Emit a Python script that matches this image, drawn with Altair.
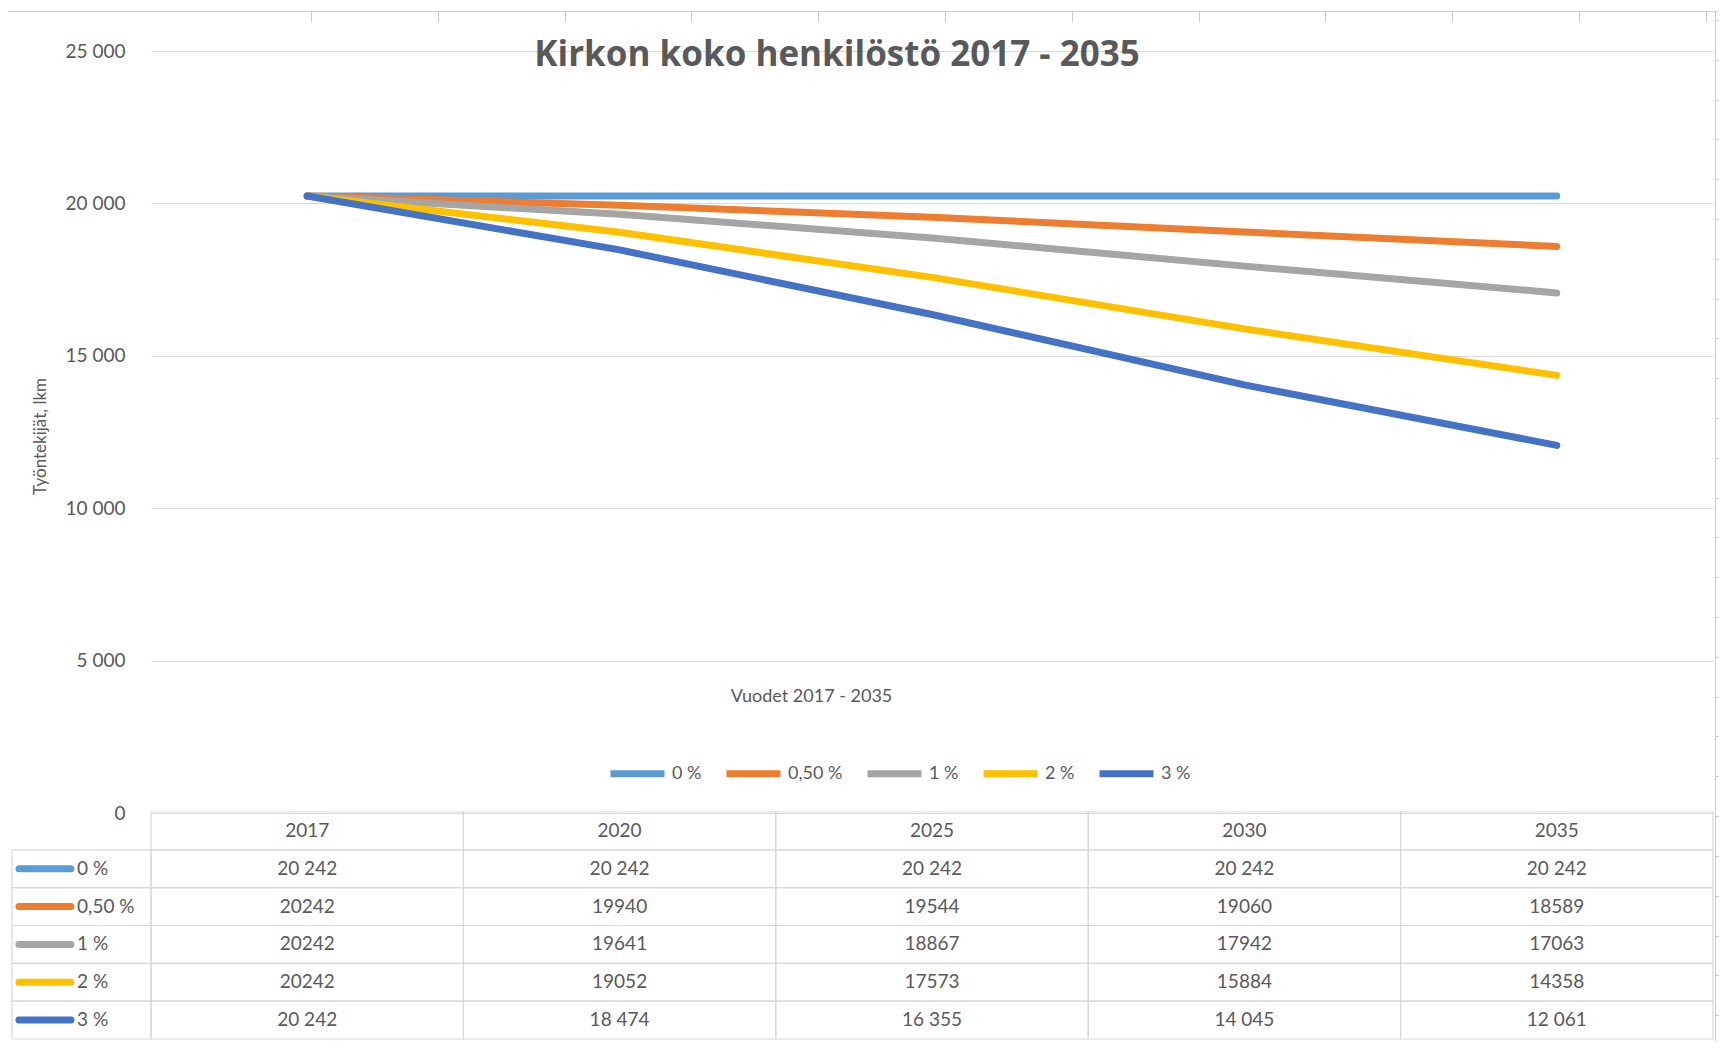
import altair as alt
import pandas as pd

# ---- data ----
years = ["2017", "2020", "2025", "2030", "2035"]
series = ["0 %", "0,50 %", "1 %", "2 %", "3 %"]
v_0 = [20242, 20242, 20242, 20242, 20242]
v_05 = [20242, 19940, 19544, 19060, 18589]
v_1 = [20242, 19641, 18867, 17942, 17063]
v_2 = [20242, 19052, 17573, 15884, 14358]
v_3 = [20242, 18474, 16355, 14045, 12061]
spaced = [True, False, False, False, True]   # table rows shown with thousands gap
colors = ["#5B9BD5", "#ED7D31", "#A5A5A5", "#FFC000", "#4472C4"]
y_ticks = [0, 5000, 10000, 15000, 20000, 25000]
title_text = "Kirkon koko henkilöstö 2017 - 2035"
x_title = "Vuodet 2017 - 2035"
y_title = "Työntekijät, lkm"
# spreadsheet grid visible behind the chart (column / row indices)
sheet_cols = list(range(12))
sheet_rows = list(range(26))

values = [v_0, v_05, v_1, v_2, v_3]

# ---- tables ----
line_rows = []
cell_rows = [{"year": y, "row": "hdr", "label": y} for y in years]
for s, vals, sp in zip(series, values, spaced):
    for y, v in zip(years, vals):
        line_rows.append({"year": y, "series": s, "value": v})
        lab = f"{v:,}".replace(",", " ") if sp else str(v)
        cell_rows.append({"year": y, "row": s, "label": lab})
lines_df = pd.DataFrame(line_rows)
cells_df = pd.DataFrame(cell_rows)
lab_df = pd.DataFrame({"col": ["lab"] * len(series), "row": series})
sheet_df = pd.DataFrame({"c": [0]})

# ---- styles / layout ----
GREY = "#595959"
GRID = "#d9d9d9"
SHEET = "#cccccc"
PLOT_W = 1562
PLOT_H = 1033
FONT = "Lato"

x_pt = alt.Scale(type="point", domain=years, range=[0, PLOT_W], padding=0.5)
y_lin = alt.Scale(domain=[0, 25000], range=[805, 43], nice=False, zero=False)
x_band = alt.Scale(type="band", domain=years, range=[0, PLOT_W], paddingInner=0, paddingOuter=0)
y_band = alt.Scale(type="band", domain=["hdr"] + series, range=[804, 1031], paddingInner=0, paddingOuter=0)
x_lab = alt.Scale(type="band", domain=["lab"], range=[-139, 0], paddingInner=0, paddingOuter=0)

lines = alt.Chart(lines_df).mark_line(strokeWidth=7, strokeCap="round", strokeJoin="round").encode(
    x=alt.X("year:O", scale=x_pt, axis=alt.Axis(
        orient="bottom", labels=False, ticks=False, domain=False, grid=False,
        title=x_title, titleX=660, titleY=-345, titleBaseline="middle", titleAlign="center",
        titleFont=FONT, titleFontSize=18, titleFontWeight="normal", titleColor=GREY)),
    y=alt.Y("value:Q", scale=y_lin, axis=alt.Axis(
        orient="left", values=y_ticks, grid=True, gridColor=GRID, gridWidth=1.2,
        domain=False, ticks=False, labelPadding=26, labelFont=FONT, labelFontSize=19,
        labelColor=GREY, labelExpr="replace(format(datum.value, ','), ',', ' ')",
        title=y_title, titleX=-111, titleY=428, titleAngle=270, titleAlign="center",
        titleBaseline="middle", titleFont=FONT, titleFontSize=17, titleFontWeight="normal",
        titleColor=GREY)),
    color=alt.Color("series:N", scale=alt.Scale(domain=series, range=colors), sort=series,
                    legend=alt.Legend(title=None, orient="none", legendX=456, legendY=735,
                                      direction="horizontal", symbolType="stroke",
                                      symbolSize=2916, symbolStrokeWidth=7,
                                      labelFont=FONT, labelFontSize=18, labelColor=GREY,
                                      labelOffset=4, columnPadding=10, padding=0)),
)

cells = alt.Chart(cells_df).mark_rect(fillOpacity=0, stroke=GRID, strokeWidth=1.2).encode(
    x=alt.X("year:O", scale=x_band, axis=None),
    y=alt.Y("row:O", scale=y_band, axis=None),
)
cell_text = alt.Chart(cells_df).mark_text(font=FONT, fontSize=19, color=GREY).encode(
    x=alt.X("year:O", scale=x_band, axis=None, bandPosition=0.5),
    y=alt.Y("row:O", scale=y_band, axis=None, bandPosition=0.5),
    text="label:N",
)
lab_cells = alt.Chart(lab_df).mark_rect(fillOpacity=0, stroke=GRID, strokeWidth=1.2).encode(
    x=alt.X("col:N", scale=x_lab, axis=None),
    y=alt.Y("row:O", scale=y_band, axis=None),
)
swatch = alt.Chart(lab_df).mark_point(shape="stroke", size=2704, strokeWidth=7, filled=False,
                                      opacity=1, strokeCap="round").encode(
    x=alt.X("col:N", scale=x_lab, axis=None, bandPosition=0.237),
    y=alt.Y("row:O", scale=y_band, axis=None, bandPosition=0.5),
    stroke=alt.Stroke("row:N", scale=alt.Scale(domain=series, range=colors), legend=None),
)
lab_text = alt.Chart(lab_df).mark_text(align="left", font=FONT, fontSize=19, color=GREY).encode(
    x=alt.X("col:N", scale=x_lab, axis=None, bandPosition=0.468),
    y=alt.Y("row:O", scale=y_band, axis=None, bandPosition=0.5),
    text="row:N",
)

sheet = alt.Chart(sheet_df).mark_point(opacity=0).encode(
    x=alt.X("c:Q", scale=alt.Scale(domain=[-2.405, 11.096], range=[-145, 1567], nice=False, zero=False),
            axis=alt.Axis(orient="bottom", offset=-1030, values=sheet_cols, labels=False,
                          ticks=True, tickSize=11, tickColor=SHEET, domain=True,
                          domainColor=SHEET, grid=False, title=None)),
    y=alt.Y("c:Q", scale=alt.Scale(domain=[-0.226, 25.65], range=[3, 1033], nice=False, zero=False),
            axis=alt.Axis(orient="right", offset=2, values=sheet_rows, labels=False,
                          ticks=True, tickSize=4, tickColor=SHEET, domain=True,
                          domainColor=SHEET, grid=False, title=None)),
)

chart = alt.layer(sheet, cells, cell_text, lab_cells, swatch, lab_text, lines).resolve_scale(
    x="independent", y="independent", color="independent", stroke="independent"
).properties(
    width=PLOT_W,
    height=PLOT_H,
    padding={"left": 143, "top": 0, "right": 6, "bottom": 0},
    autosize=alt.AutoSizeParams(type="none"),
    title=alt.Title(title_text, font="Open Sans", fontSize=35, fontWeight="bold", color=GREY,
                    anchor="middle", dx=-95, dy=69),
).configure(font=FONT, view=alt.ViewConfig(stroke=None))

chart.save("out.html", embed_options={"renderer": "svg", "actions": False})
